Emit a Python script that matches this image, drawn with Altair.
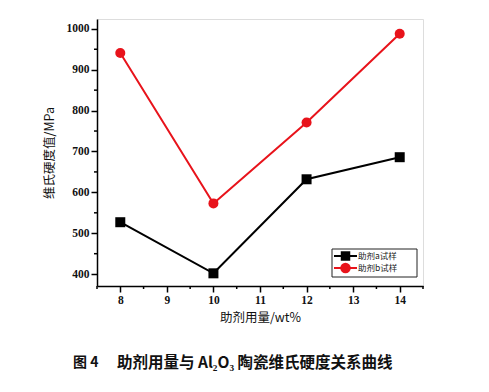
import altair as alt
import pandas as pd

# Data
x_vals = [8, 10, 12, 14]
series_a = [527, 402, 632, 686]
series_b = [941, 573, 771, 988]
names = ["助剂a试样", "助剂b试样"]
colors = ["#000000", "#e8131b"]
shapes = ["square", "circle"]
x_major = [8, 9, 10, 11, 12, 13, 14]
x_minor = [7.5, 8.5, 9.5, 10.5, 11.5, 12.5, 13.5, 14.5]
y_major = [400, 500, 600, 700, 800, 900, 1000]
y_minor = [450, 550, 650, 750, 850, 950]

rows = []
for xv, a, b in zip(x_vals, series_a, series_b):
    rows.append({"x": xv, "y": a, "s": names[0]})
    rows.append({"x": xv, "y": b, "s": names[1]})
df = pd.DataFrame(rows)

W, H = 326, 267
xs = alt.Scale(domain=[7.5, 14.5], nice=False, zero=False)
ys = alt.Scale(domain=[371, 1024], nice=False, zero=False)
cs = alt.Scale(domain=names, range=colors)

lab_font = "Liberation Serif"
cjk = "Noto Sans CJK SC"

x_enc = alt.X("x:Q", scale=xs, axis=alt.Axis(values=x_major, title="助剂用量/wt%", format="d",
              labelFont=lab_font, labelFontWeight="bold", labelFontSize=11.5, labelColor="#111",
              tickSize=6, tickWidth=1.5, tickColor="#000", domainColor="#000", domainWidth=1.5,
              grid=False, labelPadding=2, titleFont=cjk, titleFontSize=12.5, titleFontWeight="normal",
              titleColor="#111", titlePadding=6))
y_enc = alt.Y("y:Q", scale=ys, axis=alt.Axis(values=y_major, title="维氏硬度值/MPa", format="d",
              labelFont=lab_font, labelFontWeight="bold", labelFontSize=11.5, labelColor="#111",
              tickSize=6, tickWidth=1.5, tickColor="#000", domainColor="#000", domainWidth=1.5,
              grid=False, labelPadding=2, titleFont=cjk, titleFontSize=12.5, titleFontWeight="normal",
              titleColor="#111", titlePadding=10))

lines = alt.Chart(df).mark_line(strokeWidth=2).encode(
    x=x_enc, y=y_enc,
    color=alt.Color("s:N", scale=cs, legend=None),
    detail="s:N",
)
points = alt.Chart(df).mark_point(filled=True, opacity=1, size=100).encode(
    x=alt.X("x:Q", scale=xs), y=alt.Y("y:Q", scale=ys),
    color=alt.Color("s:N", scale=cs, legend=None),
    shape=alt.Shape("s:N", scale=alt.Scale(domain=names, range=shapes), legend=None),
)

xminor = alt.Chart(pd.DataFrame({"v": x_minor})).mark_rule(color="#000", strokeWidth=1.5, clip=False).encode(
    x=alt.X("v:Q", scale=xs), y=alt.value(H), y2=alt.value(H + 3))
yminor = alt.Chart(pd.DataFrame({"v": y_minor})).mark_rule(color="#000", strokeWidth=1.5, clip=False).encode(
    y=alt.Y("v:Q", scale=ys), x=alt.value(-3), x2=alt.value(0))

# Legend (drawn manually)
one = pd.DataFrame({"k": [0]})
legend_layers = [
    alt.Chart(one).mark_rect(fill="white", stroke="#222", strokeWidth=1).encode(
        x=alt.value(235), x2=alt.value(320), y=alt.value(230), y2=alt.value(258))
]
for i, (nm, col, shp) in enumerate(zip(names, colors, shapes)):
    ly = 237 + 12 * i
    d = pd.DataFrame({"t": [nm]})
    legend_layers.append(alt.Chart(d).mark_rule(color=col, strokeWidth=2).encode(
        x=alt.value(237), x2=alt.value(260), y=alt.value(ly)))
    legend_layers.append(alt.Chart(d).mark_point(filled=True, opacity=1, color=col, shape=shp,
                                                size=90 if shp == "square" else 110).encode(
        x=alt.value(248.5), y=alt.value(ly)))
    legend_layers.append(alt.Chart(d).mark_text(font=cjk, fontSize=8.5, align="left", baseline="middle",
                                               color="#222").encode(
        x=alt.value(261), y=alt.value(ly), text="t:N"))

cap1 = alt.Chart(pd.DataFrame({"t": ["图 4"]})).mark_text(
    font=cjk, fontSize=14, fontWeight="bold", align="left", baseline="middle", color="#111").encode(
    x=alt.value(-24), y=alt.value(344), text="t:N")
cap2 = alt.Chart(pd.DataFrame({"t": ["助剂用量与 Al₂O₃ 陶瓷维氏硬度关系曲线"]})).mark_text(
    font=cjk, fontSize=15.5, fontWeight="bold", align="left", baseline="middle", color="#111").encode(
    x=alt.value(20), y=alt.value(344), text="t:N")

chart = alt.layer(lines, points, xminor, yminor, *legend_layers, cap1, cap2).properties(
    width=W, height=H,
    autosize=alt.AutoSizeParams(type="none"),
    padding={"left": 89, "top": 11, "right": 58, "bottom": 98},
).configure_view(stroke="#000", strokeWidth=1.5).configure(background="white")

chart.save("out.html", embed_options={"renderer": "svg", "actions": False})
